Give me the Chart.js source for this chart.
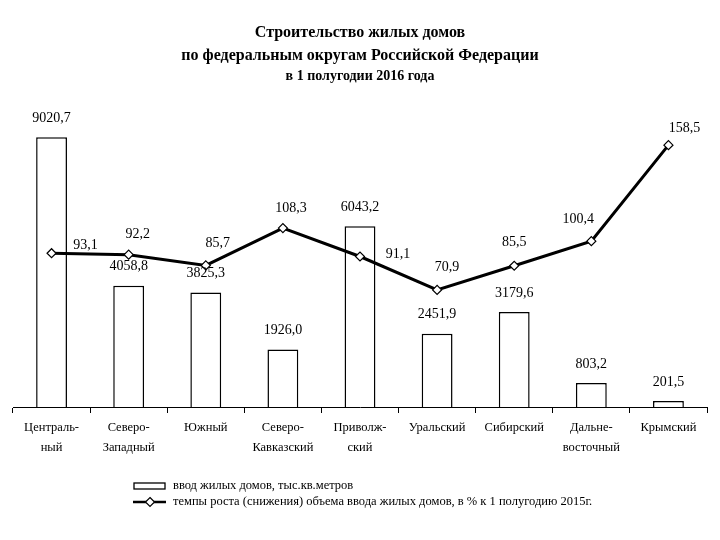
<!DOCTYPE html>
<html>
<head>
<meta charset="utf-8">
<script src="https://cdn.jsdelivr.net/npm/chart.js@4.4.1/dist/chart.umd.min.js"></script>
<style>
  html, body { margin: 0; padding: 0; background: #fff; }
  #wrap { width: 720px; height: 540px; position: relative; }
</style>
</head>
<body>
<div id="wrap"><canvas id="c" width="720" height="540"></canvas></div>
<script>
// ---- data ----
const districts = [
  ['Централь-', 'ный'],
  ['Северо-', 'Западный'],
  ['Южный'],
  ['Северо-', 'Кавказский'],
  ['Приволж-', 'ский'],
  ['Уральский'],
  ['Сибирский'],
  ['Дальне-', 'восточный'],
  ['Крымский']
];
const housing = [9020.7, 4058.8, 3825.3, 1926.0, 6043.2, 2451.9, 3179.6, 803.2, 201.5];
const growth = [93.1, 92.2, 85.7, 108.3, 91.1, 70.9, 85.5, 100.4, 158.5];
const titleLines = ['Строительство жилых домов', 'по федеральным округам Российской Федерации'];
const subtitleText = 'в 1 полугодии 2016 года';
const legendHousing = 'ввод жилых домов, тыс.кв.метров';
const legendGrowth = 'темпы роста (снижения) объема ввода жилых домов, в % к 1 полугодию 2015г.';

// ---- label placement (relative to each point) ----
const growthLabelOffsets = [[34, -8], [9, -20], [12, -22], [8, -20], [38, -2], [10, -23], [0, -23], [-13, -22], [16, -17]];

const SERIF = '"Liberation Serif", "Times New Roman", serif';
const fmt = v => v.toFixed(1).replace('.', ',');

const valueLabels = {
  id: 'valueLabels',
  afterDatasetsDraw(chart) {
    const ctx = chart.ctx;
    ctx.save();
    ctx.font = '14px ' + SERIF;
    ctx.fillStyle = '#000';
    ctx.textAlign = 'center';
    ctx.textBaseline = 'middle';
    chart.getDatasetMeta(0).data.forEach((el, i) => {
      ctx.fillText(fmt(housing[i]), el.x, el.y - 19);
    });
    chart.getDatasetMeta(1).data.forEach((el, i) => {
      const [dx, dy] = growthLabelOffsets[i];
      ctx.fillText(fmt(growth[i]), el.x + dx, el.y + dy);
    });
    ctx.restore();
  }
};

const bottomLegend = {
  id: 'bottomLegend',
  afterDraw(chart) {
    const ctx = chart.ctx;
    const x0 = 134, y1 = 486, y2 = 502;
    ctx.save();
    ctx.strokeStyle = '#000';
    ctx.fillStyle = '#fff';
    ctx.lineWidth = 1.3;
    ctx.fillRect(x0, y1 - 3, 31, 6);
    ctx.strokeRect(x0, y1 - 3, 31, 6);
    ctx.lineWidth = 2.5;
    ctx.beginPath();
    ctx.moveTo(x0 - 1, y2); ctx.lineTo(x0 + 32, y2);
    ctx.stroke();
    ctx.lineWidth = 1.2;
    const cx = x0 + 16, r = 4.5;
    ctx.beginPath();
    ctx.moveTo(cx, y2 - r); ctx.lineTo(cx + r, y2); ctx.lineTo(cx, y2 + r); ctx.lineTo(cx - r, y2); ctx.closePath();
    ctx.fill(); ctx.stroke();
    ctx.fillStyle = '#000';
    ctx.font = '12.5px ' + SERIF;
    ctx.textAlign = 'left';
    ctx.textBaseline = 'middle';
    ctx.fillText(legendHousing, 173, y1);
    ctx.fillText(legendGrowth, 173, y2);
    ctx.restore();
  }
};

new Chart(document.getElementById('c'), {
  data: {
    labels: districts,
    datasets: [
      {
        type: 'bar',
        label: legendHousing,
        data: housing,
        yAxisID: 'y',
        backgroundColor: '#ffffff',
        borderColor: '#000000',
        borderWidth: 1.5,
        categoryPercentage: 1.0,
        barPercentage: 0.4,
        order: 1
      },
      {
        type: 'line',
        label: legendGrowth,
        data: growth,
        yAxisID: 'y2',
        borderColor: '#000000',
        borderWidth: 3,
        tension: 0,
        pointStyle: 'rectRot',
        pointRadius: 4.5,
        pointBackgroundColor: '#ffffff',
        pointBorderColor: '#000000',
        pointBorderWidth: 1.2,
        order: 0
      }
    ]
  },
  options: {
    responsive: false,
    animation: false,
    devicePixelRatio: 1,
    layout: { padding: { left: 13, right: 13, top: 0, bottom: 73 } },
    plugins: {
      legend: { display: false },
      tooltip: { enabled: false },
      title: {
        display: true,
        text: titleLines,
        color: '#000',
        font: { family: SERIF, size: 16, weight: 'bold', lineHeight: 1.4 },
        padding: { top: 22, bottom: 0 }
      },
      subtitle: {
        display: true,
        text: subtitleText,
        color: '#000',
        font: { family: SERIF, size: 14, weight: 'bold', lineHeight: 1.2 },
        padding: { top: 1, bottom: 23.4 }
      }
    },
    scales: {
      x: {
        offset: true,
        afterFit: s => { s.height = 60; },
        grid: { display: true, offset: true, drawOnChartArea: false, drawTicks: true, tickLength: 6, color: '#000', lineWidth: 1 },
        border: { display: true, color: '#000', width: 1 },
        ticks: {
          color: '#000',
          autoSkip: false,
          maxRotation: 0,
          padding: 4,
          font: { family: SERIF, size: 12.5, lineHeight: 1.65 }
        }
      },
      y: { display: false, min: 0, max: 10000 },
      y2: { display: false, position: 'right', min: 0, max: 181 }
    }
  },
  plugins: [valueLabels, bottomLegend]
});
</script>
</body>
</html>
